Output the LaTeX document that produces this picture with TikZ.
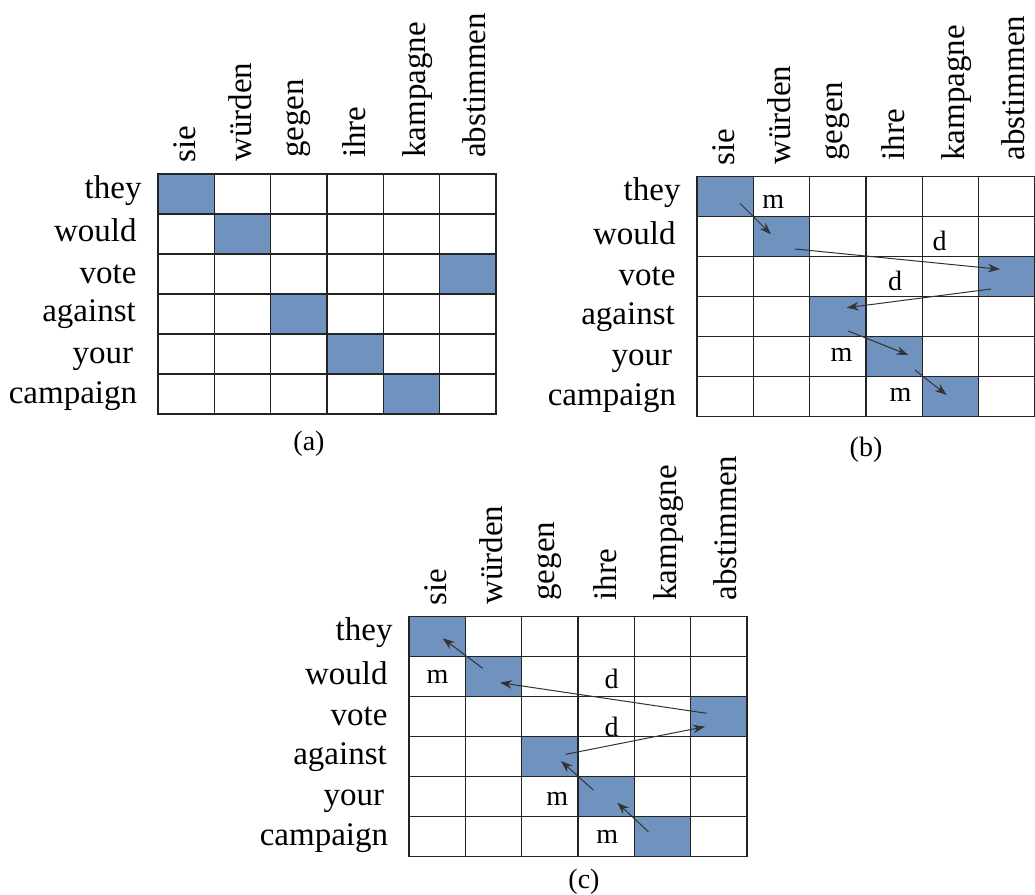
\documentclass[tikz,border=0pt]{standalone}
\usepackage{fontspec}
\setmainfont{Liberation Serif}
\usetikzlibrary{arrows.meta}
\definecolor{cellblue}{RGB}{111,146,190}
\definecolor{gridline}{RGB}{35,35,35}
\tikzset{
  rowlab/.style={anchor=base east, inner sep=0pt, font=\fontsize{33}{33}\selectfont},
  collab/.style={anchor=base west, rotate=90, inner sep=0pt, font=\fontsize{33}{33}\selectfont},
  caplab/.style={anchor=base, inner sep=0pt, font=\fontsize{28}{28}\selectfont},
  marklab/.style={anchor=base, inner sep=0pt, font=\fontsize{28}{28}\selectfont},
  alignarrow/.style={draw=black!80, line width=1pt, -{Stealth[length=12pt,width=8.5pt]}},
  gridlines/.style={draw=gridline, line width=1.4pt},
  filledcell/.style={fill=cellblue}
}
\newcommand\alignfig[3]{%
  \begin{scope}[shift={(#2,#3)}]
    \foreach \c/\r in {1/1,2/2,6/3,3/4,4/5,5/6}
      \fill[filledcell] ({(\c-1)*56.3},{(\r-1)*40}) rectangle ++(56.3,40);
    \foreach \i in {1,...,5} \draw[gridlines] ({\i*56.3},0) -- ({\i*56.3},240);
    \foreach \j in {1,...,5} \draw[gridlines] (0,{\j*40}) -- (337.8,{\j*40});
    \draw[gridlines] (0,0) rectangle (337.8,240);
    \node[rowlab] (#1-r1) at (-16.3,24) {they};
    \node[rowlab] (#1-r2) at (-21.3,67.7) {would};
    \node[rowlab] (#1-r3) at (-21.3,109) {vote};
    \node[rowlab] (#1-r4) at (-22,147.7) {against};
    \node[rowlab] (#1-r5) at (-24.7,189) {your};
    \node[rowlab] (#1-r6) at (-20.7,229) {campaign};
    \node[collab] (#1-c1) at (37,-11) {sie};
    \node[collab] (#1-c2) at (93.7,-12) {würden};
    \node[collab] (#1-c3) at (145,-16) {gegen};
    \node[collab] (#1-c4) at (207,-16) {ihre};
    \node[collab] (#1-c5) at (267,-16) {kampagne};
    \node[collab] (#1-c6) at (327,-16) {abstimmen};
  \end{scope}}
\begin{document}
\begin{tikzpicture}[x=1pt,y=-1pt]
\useasboundingbox (0,0) rectangle (1035,894);
% (a)
\alignfig{a}{158}{174}
\node[caplab] (capa) at (309,450) {(a)};
% (b)
\alignfig{b}{697}{176.7}
\node[caplab] (capb) at (866,456.7) {(b)};
\begin{scope}[shift={(697,176.7)}]
  \node[marklab] (b-m1) at (76.3,31.3) {m};
  \node[marklab] (b-d1) at (242.7,73.3) {d};
  \node[marklab] (b-d2) at (198,113.3) {d};
  \node[marklab] (b-m2) at (144.5,185) {m};
  \node[marklab] (b-m3) at (203.5,225) {m};
  \coordinate (b-a1s) at (43,26.6);   \coordinate (b-a1e) at (74,57.6);
  \coordinate (b-a2s) at (98,72.3);   \coordinate (b-a2e) at (303,92.6);
  \coordinate (b-a3s) at (294,112.3); \coordinate (b-a3e) at (149.7,131);
  \coordinate (b-a4s) at (151.3,154.3); \coordinate (b-a4e) at (211.3,178.3);
  \coordinate (b-a5s) at (218,193.3); \coordinate (b-a5e) at (249.7,218.3);
  \draw[alignarrow] (b-a1s) -- (b-a1e);
  \draw[alignarrow] (b-a2s) -- (b-a2e);
  \draw[alignarrow] (b-a3s) -- (b-a3e);
  \draw[alignarrow] (b-a4s) -- (b-a4e);
  \draw[alignarrow] (b-a5s) -- (b-a5e);
\end{scope}
% (c)
\alignfig{c}{409}{616.7}
\node[caplab] (capc) at (584,888) {(c)};
\begin{scope}[shift={(409,616.7)}]
  \node[marklab] (c-m1) at (28.5,66.3) {m};
  \node[marklab] (c-d1) at (202.5,71.6) {d};
  \node[marklab] (c-d2) at (202.5,120) {d};
  \node[marklab] (c-m2) at (148.3,188.3) {m};
  \node[marklab] (c-m3) at (198.3,226.3) {m};
  \coordinate (c-a1s) at (73.7,51.6);  \coordinate (c-a1e) at (33.7,21.6);
  \coordinate (c-a2s) at (297.7,96.6); \coordinate (c-a2e) at (91,66);
  \coordinate (c-a3s) at (156.7,137.6); \coordinate (c-a3e) at (296,110);
  \coordinate (c-a4s) at (184.3,173.3); \coordinate (c-a4e) at (152,144.3);
  \coordinate (c-a5s) at (239.3,215);  \coordinate (c-a5e) at (208.3,186);
  \draw[alignarrow] (c-a1s) -- (c-a1e);
  \draw[alignarrow] (c-a2s) -- (c-a2e);
  \draw[alignarrow] (c-a3s) -- (c-a3e);
  \draw[alignarrow] (c-a4s) -- (c-a4e);
  \draw[alignarrow] (c-a5s) -- (c-a5e);
\end{scope}
\end{tikzpicture}
\end{document}
